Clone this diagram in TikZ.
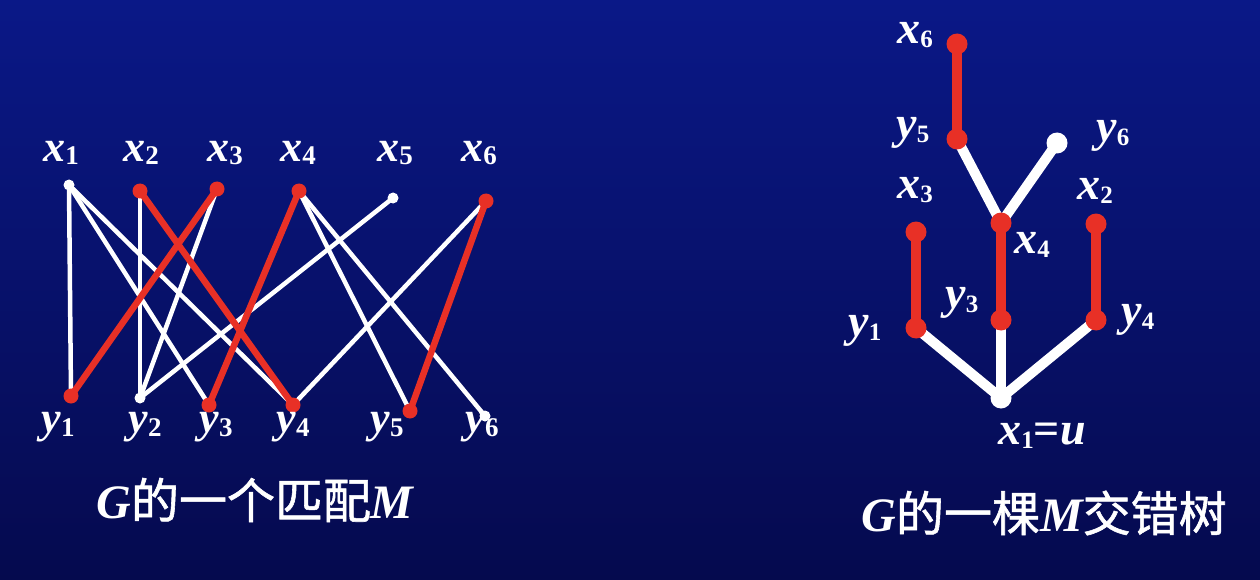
\documentclass[tikz,border=0pt]{standalone}
\usepackage{fontspec}
\setmainfont{Liberation Serif}
\newfontfamily\cjk[FakeBold=1.2]{Noto Sans CJK SC}
\definecolor{bgtop}{RGB}{10,24,135}
\definecolor{bgbot}{RGB}{5,10,78}
\definecolor{mred}{RGB}{232,48,38}
\newcommand{\vl}[2]{{\fontsize{44}{48}\selectfont\bfseries\itshape #1}\raisebox{-0.38em}{\fontsize{27}{30}\selectfont\bfseries #2}}
\newcommand{\tl}[2]{{\fontsize{46}{50}\selectfont\bfseries\itshape #1}\raisebox{-0.4em}{\fontsize{25}{28}\selectfont\bfseries #2}}
\begin{document}
\begin{tikzpicture}[x=1pt,y=-1pt,
  lbl/.style={text=white,inner sep=0pt,anchor=center},
  wedge/.style={white,line width=4.5pt},
  redge/.style={mred,line width=6.5pt},
  wdot/.style={circle,fill=white,inner sep=0pt,minimum size=11pt},
  rdot/.style={circle,fill=mred,inner sep=0pt,minimum size=15pt},
  twedge/.style={white,line width=10pt},
  tredge/.style={mred,line width=10pt},
  twdot/.style={circle,fill=white,inner sep=0pt,minimum size=21pt},
  trdot/.style={circle,fill=mred,inner sep=0pt,minimum size=21pt},
  captext/.style={text=white,inner sep=0pt,font=\fontsize{48}{52}\selectfont}]
\shade[top color=bgtop,bottom color=bgbot] (0,0) rectangle (1260,580);
\useasboundingbox (0,0) rectangle (1260,580);
% left graph vertices
\coordinate (x1) at (69,185);
\coordinate (x2) at (140,191);
\coordinate (x3) at (217,189);
\coordinate (x4) at (299,191);
\coordinate (x5) at (393,198);
\coordinate (x6) at (486,201);
\coordinate (y1) at (71,396);
\coordinate (y2) at (140,398);
\coordinate (y3) at (209,405);
\coordinate (y4) at (293,405);
\coordinate (y5) at (410,411);
\coordinate (y6) at (485,416);
% white edges
\draw[wedge] (x1) -- (y1);
\draw[wedge] (x1) -- (y3);
\draw[wedge] (x1) -- (y4);
\draw[wedge] (x2) -- (y2);
\draw[wedge] (x3) -- (y2);
\draw[wedge] (x5) -- (y2);
\draw[wedge] (x4) -- (y5);
\draw[wedge] (x4) -- (y6);
\draw[wedge] (x6) -- (y4);
% red edges
\draw[redge] (x2) -- (y4);
\draw[redge] (x3) -- (y1);
\draw[redge] (x4) -- (y3);
\draw[redge] (x6) -- (y5);
% dots
\node[wdot] (dx1) at (x1) {};
\node[rdot] (dx2) at (x2) {};
\node[rdot] (dx3) at (x3) {};
\node[rdot] (dx4) at (x4) {};
\node[wdot] (dx5) at (x5) {};
\node[rdot] (dx6) at (x6) {};
\node[rdot] (dy1) at (y1) {};
\node[wdot] (dy2) at (y2) {};
\node[rdot] (dy3) at (y3) {};
\node[rdot] (dy4) at (y4) {};
\node[rdot] (dy5) at (y5) {};
\node[wdot] (dy6) at (y6) {};
% labels
\node[lbl] (lx1) at (61,153) {\vl{x}{1}};
\node[lbl] (lx2) at (141,153) {\vl{x}{2}};
\node[lbl] (lx3) at (225,153) {\vl{x}{3}};
\node[lbl] (lx4) at (298,153) {\vl{x}{4}};
\node[lbl] (lx5) at (395,153) {\vl{x}{5}};
\node[lbl] (lx6) at (479,153) {\vl{x}{6}};
\node[lbl] (ly1) at (58,427) {\vl{y}{1}};
\node[lbl] (ly2) at (145,427) {\vl{y}{2}};
\node[lbl] (ly3) at (216,427) {\vl{y}{3}};
\node[lbl] (ly4) at (293,427) {\vl{y}{4}};
\node[lbl] (ly5) at (387,427) {\vl{y}{5}};
\node[lbl] (ly6) at (482,427) {\vl{y}{6}};
\node[captext] (capL) at (255,500) {{\bfseries\itshape G}{\cjk 的一个匹配}{\bfseries\itshape M}};
% tree
\coordinate (tx6) at (957,44);
\coordinate (ty5) at (957,139);
\coordinate (ty6) at (1057,143);
\coordinate (tx4) at (1001,223);
\coordinate (tx3) at (916,232);
\coordinate (tx2) at (1096,224);
\coordinate (ty1) at (916,328);
\coordinate (ty3) at (1001,320);
\coordinate (ty4) at (1096,320);
\coordinate (tx1) at (1001,398);
\draw[twedge] (tx1) -- (ty1);
\draw[twedge] (tx1) -- (ty3);
\draw[twedge] (tx1) -- (ty4);
\draw[twedge] (tx4) -- (ty5);
\draw[twedge] (tx4) -- (ty6);
\draw[tredge] (ty1) -- (tx3);
\draw[tredge] (ty3) -- (tx4);
\draw[tredge] (ty4) -- (tx2);
\draw[tredge] (ty5) -- (tx6);
\node[trdot] (dtx6) at (tx6) {};
\node[trdot] (dty5) at (ty5) {};
\node[twdot] (dty6) at (ty6) {};
\node[trdot] (dtx4) at (tx4) {};
\node[trdot] (dtx3) at (tx3) {};
\node[trdot] (dtx2) at (tx2) {};
\node[trdot] (dty1) at (ty1) {};
\node[trdot] (dty3) at (ty3) {};
\node[trdot] (dty4) at (ty4) {};
\node[twdot] (dtx1) at (tx1) {};
\node[lbl] (ltx6) at (915,35) {\tl{x}{6}};
\node[lbl] (lty5) at (913,133) {\tl{y}{5}};
\node[lbl] (lty6) at (1113,136) {\tl{y}{6}};
\node[lbl] (ltx3) at (915,190) {\tl{x}{3}};
\node[lbl] (ltx2) at (1095,191) {\tl{x}{2}};
\node[lbl] (ltx4) at (1032,245) {\tl{x}{4}};
\node[lbl] (lty3) at (962,303) {\tl{y}{3}};
\node[lbl] (lty1) at (865,331) {\tl{y}{1}};
\node[lbl] (lty4) at (1138,320) {\tl{y}{4}};
\node[lbl] (ltx1) at (1042,436) {\tl{x}{1}{\fontsize{46}{50}\selectfont\bfseries =\itshape u}};
\node[captext] (capR) at (1044,513) {{\bfseries\itshape G}{\cjk 的一棵}{\bfseries\itshape M}{\cjk 交错树}};
\end{tikzpicture}
\end{document}
